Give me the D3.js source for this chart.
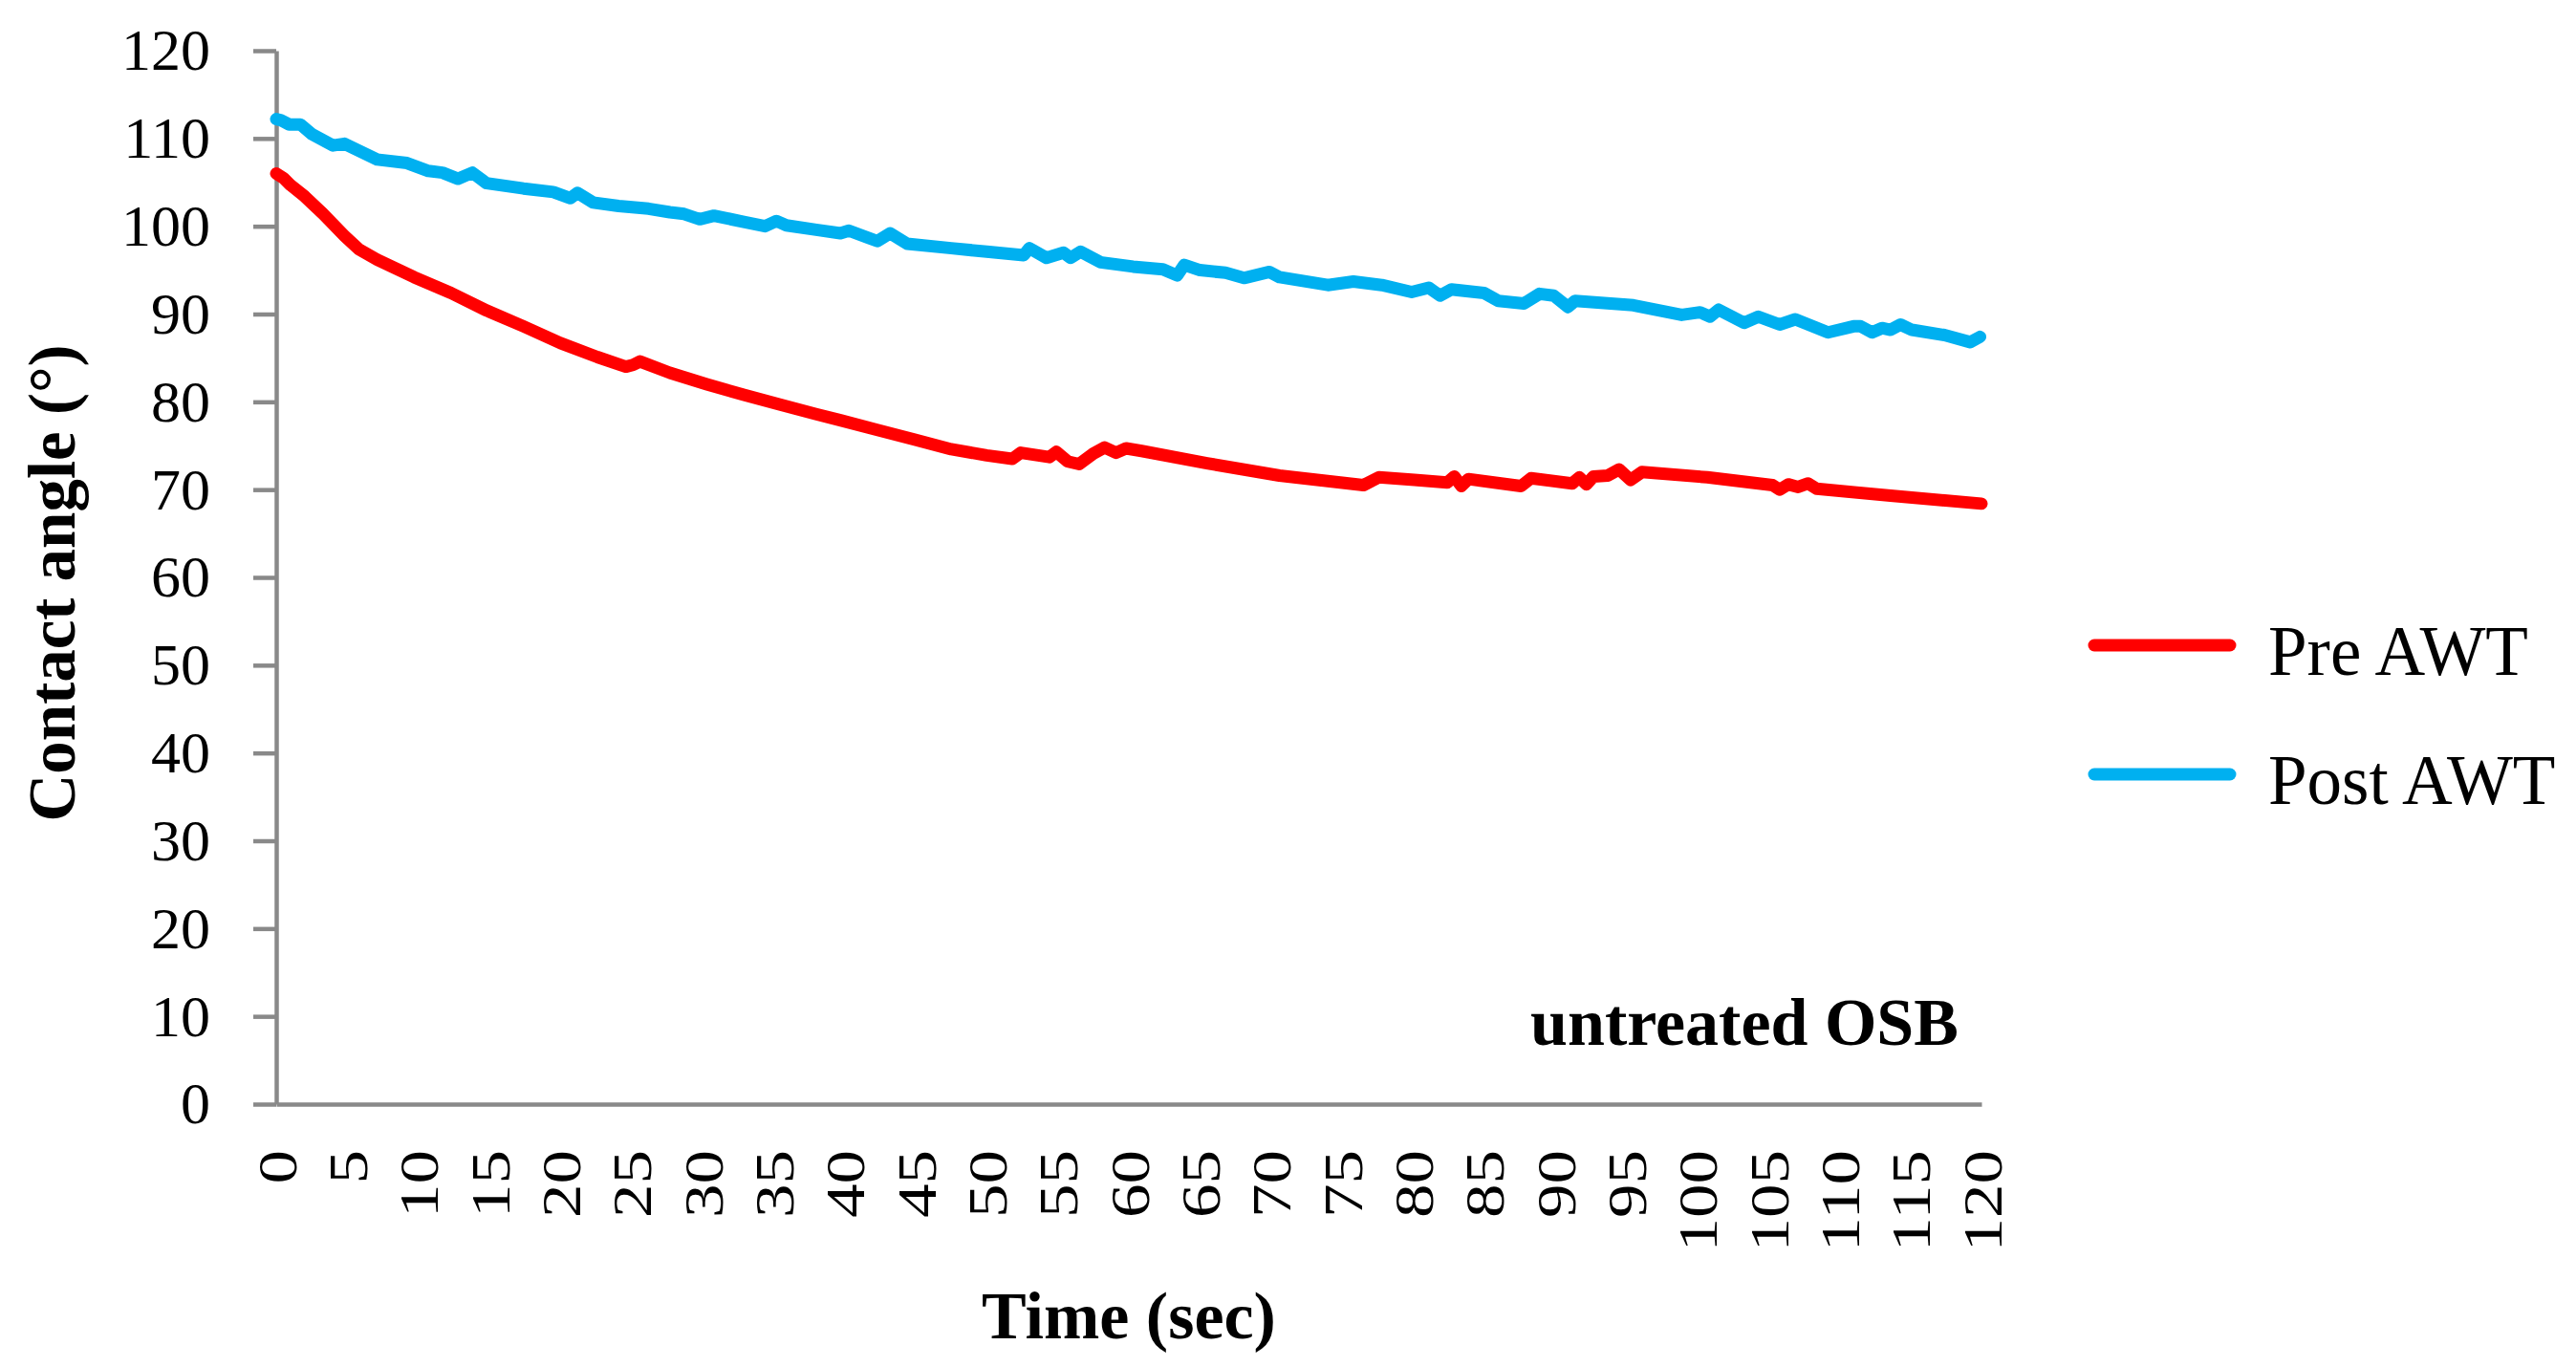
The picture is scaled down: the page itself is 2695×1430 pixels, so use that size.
<!DOCTYPE html>
<html>
<head>
<meta charset="utf-8">
<script src="https://cdn.jsdelivr.net/npm/d3@7"></script>
<style>
  html, body { margin: 0; padding: 0; background: #ffffff; }
  svg { display: block; }
</style>
</head>
<body>
<svg id="chart" width="2695" height="1430"></svg>
<script>
// ---- Data ----
const seriesNames = ["Pre AWT", "Post AWT"];
const seriesColors = ["#FF0000", "#00B0F0"];

const preTime = [0, 0.5, 1, 2, 3.3, 4.8, 5.8, 7.1, 9.7, 12.3, 14.8, 17.4, 20, 22.6, 24.6, 25.1, 25.6, 27.7, 30.3, 32.9, 35.4, 38, 39.7, 42.3, 44.9, 47.5, 50, 51.8, 52.4, 54.4, 54.9, 55.7, 56.5, 57.5, 58.3, 59.1, 59.8, 60.9, 65.5, 70.6, 76.5, 77.6, 80.1, 82.4, 82.9, 83.4, 83.9, 87.6, 88.3, 91.2, 91.7, 92.2, 92.7, 93.7, 94.5, 95.3, 96.1, 100.7, 105.3, 105.8, 106.4, 107.1, 107.8, 108.4, 113.6, 120];
const preValues = [106.0, 105.5, 104.7, 103.4, 101.4, 98.9, 97.4, 96.2, 94.2, 92.4, 90.4, 88.6, 86.7, 85.1, 84.0, 84.2, 84.6, 83.3, 82.0, 80.8, 79.7, 78.6, 77.9, 76.8, 75.7, 74.6, 73.9, 73.5, 74.2, 73.7, 74.3, 73.2, 72.9, 74.1, 74.8, 74.2, 74.7, 74.4, 73.0, 71.6, 70.5, 71.4, 71.1, 70.8, 71.5, 70.4, 71.2, 70.4, 71.3, 70.7, 71.4, 70.6, 71.5, 71.6, 72.3, 71.1, 72.0, 71.4, 70.5, 70.0, 70.6, 70.3, 70.7, 70.1, 69.3, 68.4];

const postTime = [0, 0.3, 0.9, 1.7, 2.5, 4.0, 4.8, 7.1, 9.2, 10.7, 11.7, 12.8, 13.8, 14.8, 17.4, 19.5, 20.7, 21.2, 22.3, 24.1, 26.2, 27.7, 28.7, 29.8, 30.8, 32.9, 34.4, 35.2, 35.9, 38, 39.7, 40.3, 42.3, 43.2, 44.4, 47.5, 50.0, 52.6, 53.0, 54.2, 55.4, 55.9, 56.6, 58.0, 60.3, 62.4, 63.4, 63.9, 65.0, 66.8, 68.1, 69.9, 70.6, 74.0, 75.8, 77.8, 79.9, 81.1, 81.9, 82.7, 85.0, 86.0, 87.8, 88.9, 89.9, 90.9, 91.4, 95.5, 98.9, 100.2, 100.9, 101.5, 103.3, 104.3, 105.8, 106.9, 109.2, 111.0, 111.5, 112.3, 113.0, 113.6, 114.3, 115.1, 117.4, 119.2, 119.9];
const postValues = [112.2, 112.1, 111.6, 111.6, 110.5, 109.2, 109.4, 107.6, 107.2, 106.3, 106.1, 105.4, 106.1, 104.9, 104.3, 103.9, 103.2, 103.8, 102.7, 102.3, 102.0, 101.6, 101.4, 100.8, 101.2, 100.5, 100.0, 100.6, 100.1, 99.6, 99.2, 99.5, 98.3, 99.2, 98.0, 97.5, 97.1, 96.7, 97.5, 96.4, 97.0, 96.4, 97.1, 95.9, 95.4, 95.1, 94.4, 95.6, 95.0, 94.7, 94.1, 94.8, 94.2, 93.3, 93.7, 93.3, 92.5, 93.0, 92.1, 92.8, 92.4, 91.5, 91.2, 92.3, 92.1, 90.8, 91.5, 91.0, 89.9, 90.2, 89.7, 90.5, 89.0, 89.7, 88.8, 89.4, 87.9, 88.6, 88.6, 87.9, 88.4, 88.2, 88.8, 88.2, 87.6, 86.8, 87.4];

const xTickValues = [0, 5, 10, 15, 20, 25, 30, 35, 40, 45, 50, 55, 60, 65, 70, 75, 80, 85, 90, 95, 100, 105, 110, 115, 120];
const yTickValues = [0, 10, 20, 30, 40, 50, 60, 70, 80, 90, 100, 110, 120];

const xTitle = "Time (sec)";
const yTitle = "Contact angle (°)";
const annotation = "untreated OSB";

// ---- Drawing ----
const svg = d3.select("#chart");
svg.append("rect").attr("width", 2695).attr("height", 1430).attr("fill", "#ffffff");

const x = d3.scaleLinear().domain([0, 120]).range([289, 2073]);
const y = d3.scaleLinear().domain([0, 120]).range([1155, 53]);

const axisColor = "#898989";
const serif = "'Liberation Serif', 'Times New Roman', serif";

// Y axis
const yAxis = svg.append("g")
  .attr("transform", `translate(${x(0)},0)`)
  .call(d3.axisLeft(y).tickValues(yTickValues).tickSize(24).tickSizeOuter(0).tickPadding(45).tickFormat(d3.format("d")));
yAxis.select(".domain").attr("stroke", axisColor).attr("stroke-width", 4.5);
yAxis.selectAll(".tick line").attr("stroke", axisColor).attr("stroke-width", 4.5);
yAxis.selectAll(".tick text")
  .attr("font-family", serif)
  .attr("font-size", 62)
  .attr("fill", "#000");

// X axis
const xAxis = svg.append("g")
  .attr("transform", `translate(0,${y(0)})`)
  .call(d3.axisBottom(x).tickValues(xTickValues).tickSize(0).tickSizeOuter(0).tickFormat(d3.format("d")));
xAxis.select(".domain").attr("stroke", axisColor).attr("stroke-width", 4.5);
xAxis.selectAll(".tick text")
  .attr("font-family", serif)
  .attr("font-size", 58)
  .attr("fill", "#000")
  .attr("transform", "rotate(-90)")
  .attr("text-anchor", "end")
  .attr("x", -48)
  .attr("y", 0)
  .attr("dy", "0.35em")
  .attr("textLength", d => String(d).length * 35.5)
  .attr("lengthAdjust", "spacingAndGlyphs");

// Lines
const line = d3.line().x(d => x(d[0])).y(d => y(d[1]));
const preData = preTime.map((t, i) => [t, preValues[i]]);
const postData = postTime.map((t, i) => [t, postValues[i]]);

svg.append("path").datum(preData)
  .attr("d", line).attr("fill", "none")
  .attr("stroke", seriesColors[0]).attr("stroke-width", 13)
  .attr("stroke-linejoin", "round").attr("stroke-linecap", "round");
svg.append("path").datum(postData)
  .attr("d", line).attr("fill", "none")
  .attr("stroke", seriesColors[1]).attr("stroke-width", 13)
  .attr("stroke-linejoin", "round").attr("stroke-linecap", "round");

// Axis titles
svg.append("text")
  .attr("x", 1181).attr("y", 1400)
  .attr("text-anchor", "middle")
  .attr("font-family", serif).attr("font-weight", "bold").attr("font-size", 70)
  .attr("fill", "#000")
  .text(xTitle);

svg.append("text")
  .attr("transform", "translate(78,610) rotate(-90)")
  .attr("text-anchor", "middle")
  .attr("font-family", serif).attr("font-weight", "bold").attr("font-size", 69)
  .attr("fill", "#000")
  .text(yTitle);

// Annotation
svg.append("text")
  .attr("x", 2049).attr("y", 1093)
  .attr("text-anchor", "end")
  .attr("font-family", serif).attr("font-weight", "bold").attr("font-size", 70)
  .attr("fill", "#000")
  .text(annotation);

// Legend
const legendY = [675, 810];
const legend = svg.append("g");
seriesNames.forEach((name, i) => {
  legend.append("line")
    .attr("x1", 2191).attr("x2", 2333)
    .attr("y1", legendY[i]).attr("y2", legendY[i])
    .attr("stroke", seriesColors[i]).attr("stroke-width", 13)
    .attr("stroke-linecap", "round");
  legend.append("text")
    .attr("x", 2373).attr("y", legendY[i] + 31)
    .attr("font-family", serif).attr("font-size", 73)
    .attr("fill", "#000")
    .text(name);
});
</script>
</body>
</html>
